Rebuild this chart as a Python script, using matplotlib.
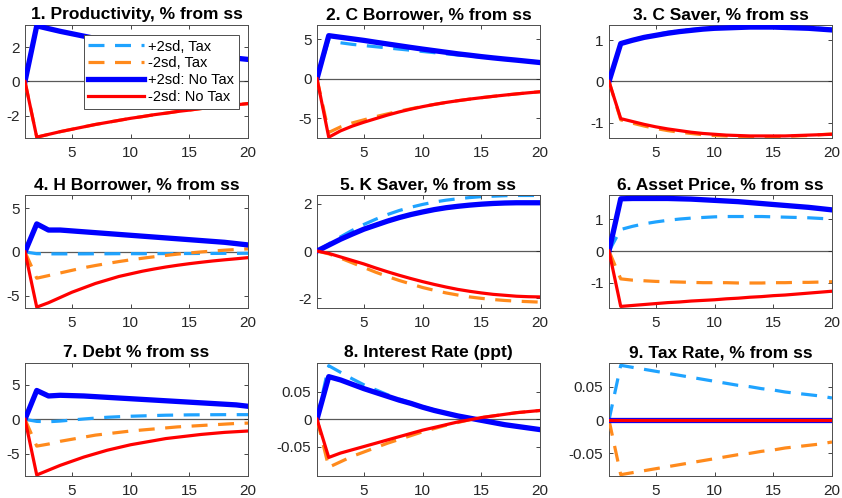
import numpy as np
import matplotlib.pyplot as plt

plt.rcParams['font.family'] = ['Liberation Sans', 'DejaVu Sans']
plt.rcParams['axes.unicode_minus'] = False

t = np.arange(1, 21)

titles = ['1. Productivity, % from ss', '2. C Borrower, % from ss', '3. C Saver, % from ss',
          '4. H Borrower, % from ss', '5. K Saver, % from ss', '6. Asset Price, % from ss',
          '7. Debt % from ss', '8. Interest Rate (ppt)', '9. Tax Rate, % from ss']
labels = ['+2sd, Tax', '-2sd, Tax', '+2sd: No Tax', '-2sd: No Tax']

# 1. productivity (same with and without tax)
prod_pos = [0, 3.25, 3.09, 2.93, 2.79, 2.65, 2.51, 2.39, 2.27, 2.15, 2.05, 1.94, 1.85, 1.75, 1.67, 1.58, 1.50, 1.43, 1.36, 1.29]
prod_neg = [-v for v in prod_pos]

# 2. C borrower
cb_tax_pos = [0, 4.95, 4.55, 4.35, 4.2, 4.05, 3.9, 3.75, 3.6, 3.45, 3.3, 3.15, 3.0, 2.87, 2.74, 2.61, 2.49, 2.37, 2.25, 2.1]
cb_tax_neg = [0, -6.8, -6.1, -5.6, -5.2, -4.8, -4.45, -4.1, -3.8, -3.5, -3.25, -3.0, -2.78, -2.58, -2.4, -2.23, -2.07, -1.92, -1.78, -1.65]
cb_pos = [0, 5.45, 5.25, 5.05, 4.85, 4.62, 4.4, 4.18, 3.96, 3.75, 3.55, 3.35, 3.15, 2.98, 2.8, 2.64, 2.49, 2.35, 2.2, 2.05]
cb_neg = [0, -7.4, -6.6, -6.0, -5.5, -5.05, -4.6, -4.2, -3.85, -3.53, -3.25, -3.0, -2.78, -2.58, -2.4, -2.23, -2.07, -1.92, -1.78, -1.65]

# 3. C saver
cs_tax_pos = [0, 0.93, 1.01, 1.08, 1.14, 1.19, 1.23, 1.26, 1.29, 1.31, 1.32, 1.33, 1.34, 1.34, 1.34, 1.33, 1.32, 1.31, 1.29, 1.27]
cs_tax_neg = [-v for v in cs_tax_pos]
cs_pos = [0, 0.92, 1.0, 1.07, 1.12, 1.17, 1.21, 1.24, 1.27, 1.29, 1.30, 1.31, 1.32, 1.32, 1.32, 1.31, 1.30, 1.29, 1.27, 1.25]
cs_neg = [0, -0.9, -0.97, -1.04, -1.1, -1.15, -1.19, -1.23, -1.26, -1.28, -1.3, -1.31, -1.32, -1.32, -1.32, -1.32, -1.31, -1.3, -1.29, -1.28]

# 4. H borrower
hb_tax_pos = [0, -0.2, -0.22, -0.22, -0.22, -0.22, -0.21, -0.21, -0.2, -0.2, -0.2, -0.19, -0.19, -0.18, -0.18, -0.17, -0.17, -0.16, -0.16, -0.15]
hb_tax_neg = [0, -3.0, -2.7, -2.4, -2.1, -1.8, -1.55, -1.32, -1.1, -0.9, -0.72, -0.55, -0.4, -0.25, -0.12, 0.0, 0.1, 0.2, 0.28, 0.35]
hb_pos = [0, 3.2, 2.5, 2.5, 2.4, 2.3, 2.2, 2.1, 2.0, 1.9, 1.8, 1.7, 1.6, 1.5, 1.4, 1.3, 1.2, 1.1, 0.95, 0.8]
hb_neg = [0, -6.3, -5.8, -5.2, -4.6, -4.1, -3.6, -3.2, -2.8, -2.5, -2.2, -1.95, -1.72, -1.52, -1.34, -1.18, -1.03, -0.9, -0.78, -0.65]

# 5. K saver
ks_tax_pos = [0, 0.3, 0.6, 0.88, 1.13, 1.35, 1.55, 1.72, 1.86, 1.98, 2.08, 2.16, 2.22, 2.27, 2.31, 2.33, 2.35, 2.36, 2.36, 2.36]
ks_tax_neg = [0, -0.12, -0.3, -0.5, -0.7, -0.9, -1.08, -1.25, -1.4, -1.55, -1.67, -1.78, -1.87, -1.95, -2.01, -2.06, -2.1, -2.13, -2.15, -2.17]
ks_pos = [0, 0.25, 0.5, 0.72, 0.93, 1.1, 1.27, 1.42, 1.55, 1.66, 1.76, 1.84, 1.9, 1.95, 1.99, 2.02, 2.04, 2.05, 2.05, 2.05]
ks_neg = [0, -0.1, -0.25, -0.4, -0.55, -0.72, -0.88, -1.03, -1.17, -1.3, -1.42, -1.53, -1.63, -1.71, -1.78, -1.84, -1.88, -1.92, -1.94, -1.95]

# 6. asset price
ap_tax_pos = [0, 0.68, 0.78, 0.86, 0.92, 0.97, 1.01, 1.04, 1.06, 1.08, 1.09, 1.09, 1.09, 1.09, 1.08, 1.07, 1.06, 1.05, 1.03, 1.01]
ap_tax_neg = [0, -0.88, -0.92, -0.94, -0.96, -0.97, -0.98, -0.99, -1.0, -1.0, -1.0, -1.01, -1.01, -1.01, -1.0, -1.0, -0.99, -0.99, -0.98, -0.97]
ap_pos = [0, 1.65, 1.66, 1.66, 1.66, 1.66, 1.65, 1.64, 1.62, 1.6, 1.58, 1.56, 1.53, 1.5, 1.47, 1.44, 1.41, 1.38, 1.34, 1.3]
ap_neg = [0, -1.75, -1.72, -1.69, -1.66, -1.63, -1.61, -1.58, -1.56, -1.54, -1.51, -1.49, -1.46, -1.44, -1.41, -1.39, -1.36, -1.33, -1.3, -1.27]

# 7. debt
db_tax_pos = [0, -0.3, -0.35, -0.25, -0.1, 0.05, 0.18, 0.3, 0.38, 0.45, 0.5, 0.55, 0.6, 0.62, 0.65, 0.66, 0.67, 0.68, 0.68, 0.68]
db_tax_neg = [0, -3.9, -3.6, -3.2, -2.9, -2.6, -2.3, -2.1, -1.9, -1.7, -1.55, -1.4, -1.25, -1.1, -1.0, -0.9, -0.8, -0.7, -0.6, -0.55]
db_pos = [0, 4.2, 3.4, 3.5, 3.45, 3.4, 3.3, 3.2, 3.1, 3.0, 2.9, 2.8, 2.7, 2.6, 2.5, 2.4, 2.3, 2.2, 2.1, 1.9]
db_neg = [0, -8.1, -7.4, -6.7, -6.1, -5.5, -5.0, -4.5, -4.1, -3.7, -3.4, -3.1, -2.8, -2.6, -2.4, -2.2, -2.05, -1.9, -1.8, -1.7]

# 8. interest rate
ir_tax_pos = [0, 0.098, 0.086, 0.074, 0.063, 0.054, 0.045, 0.037, 0.030, 0.023, 0.017, 0.011, 0.006, 0.002, -0.002, -0.006, -0.010, -0.013, -0.016, -0.019]
ir_tax_neg = [0, -0.088, -0.078, -0.068, -0.060, -0.052, -0.044, -0.037, -0.030, -0.023, -0.017, -0.011, -0.006, -0.001, 0.003, 0.006, 0.009, 0.012, 0.014, 0.016]
ir_pos = [0, 0.078, 0.072, 0.064, 0.056, 0.049, 0.042, 0.035, 0.029, 0.022, 0.016, 0.011, 0.006, 0.002, -0.002, -0.006, -0.010, -0.013, -0.016, -0.019]
ir_neg = [0, -0.070, -0.062, -0.056, -0.050, -0.044, -0.038, -0.032, -0.026, -0.020, -0.015, -0.010, -0.005, -0.001, 0.003, 0.006, 0.009, 0.012, 0.014, 0.016]

# 9. tax rate
tx_tax_pos = [0, 0.082, 0.079, 0.076, 0.073, 0.070, 0.067, 0.064, 0.061, 0.058, 0.055, 0.052, 0.050, 0.047, 0.045, 0.042, 0.040, 0.038, 0.036, 0.033]
tx_tax_neg = [-v for v in tx_tax_pos]
tx_pos = [0] * 20
tx_neg = [0] * 20

series = [
    (prod_pos, prod_neg, prod_pos, prod_neg),
    (cb_tax_pos, cb_tax_neg, cb_pos, cb_neg),
    (cs_tax_pos, cs_tax_neg, cs_pos, cs_neg),
    (hb_tax_pos, hb_tax_neg, hb_pos, hb_neg),
    (ks_tax_pos, ks_tax_neg, ks_pos, ks_neg),
    (ap_tax_pos, ap_tax_neg, ap_pos, ap_neg),
    (db_tax_pos, db_tax_neg, db_pos, db_neg),
    (ir_tax_pos, ir_tax_neg, ir_pos, ir_neg),
    (tx_tax_pos, tx_tax_neg, tx_pos, tx_neg),
]

ylims = [(-3.3, 3.3), (-7.5, 6.8), (-1.37, 1.37), (-6.4, 6.5), (-2.42, 2.38),
         (-1.8, 1.77), (-8.25, 8.2), (-0.104, 0.103), (-0.084, 0.0855)]
yticks = [[-2, 0, 2], [-5, 0, 5], [-1, 0, 1], [-5, 0, 5], [-2, 0, 2],
          [-1, 0, 1], [-5, 0, 5], [-0.05, 0, 0.05], [-0.05, 0, 0.05]]

colors = ['#1fa3ff', '#ff8a1c', '#0000ff', '#ff0000']
widths = [2.3, 2.3, 3.8, 2.3]
styles = ['--', '--', '-', '-']

fig = plt.figure(figsize=(8.42, 4.98), dpi=100)
W, H = 842, 498
lefts = [25, 317, 609]
tops = [25, 195, 363]
aw, ah = 223, 113

for i in range(9):
    r, c = divmod(i, 3)
    ax = fig.add_axes([lefts[c] / W, 1 - (tops[r] + ah) / H, aw / W, ah / H])
    ax.axhline(0, color='0.35', lw=0.9, zorder=1)
    lines = []
    for k in range(4):
        ln, = ax.plot(t, series[i][k], color=colors[k], lw=widths[k], ls=styles[k], zorder=2 + k)
        if styles[k] == '--':
            ln.set_dashes((5, 3.3))
        lines.append(ln)
    ax.set_xlim(1, 20)
    ax.set_ylim(*ylims[i])
    ax.set_xticks([5, 10, 15, 20])
    ax.set_yticks(yticks[i])
    ax.set_yticklabels([('%g' % v) for v in yticks[i]])
    ax.tick_params(direction='in', length=3, width=0.6, colors='0.15', labelsize=11,
                   top=True, right=True)
    ax.tick_params(axis='x', pad=6)
    ax.tick_params(axis='y', pad=4)
    for s in ax.spines.values():
        s.set_color('0.3')
        s.set_linewidth(0.7)
    ax.set_title(titles[i], fontsize=12.5, fontweight='bold', pad=4)
    if i == 0:
        leg = ax.legend(lines, labels, loc='upper left', bbox_to_anchor=(0.265, 0.91),
                        borderaxespad=0, fontsize=10.5, handlelength=3.8, fancybox=False,
                        framealpha=1, edgecolor='0.3', labelspacing=0.2, borderpad=0.3,
                        handletextpad=0.3)
        leg.get_frame().set_linewidth(0.7)

fig.savefig('out.png', dpi=100)
